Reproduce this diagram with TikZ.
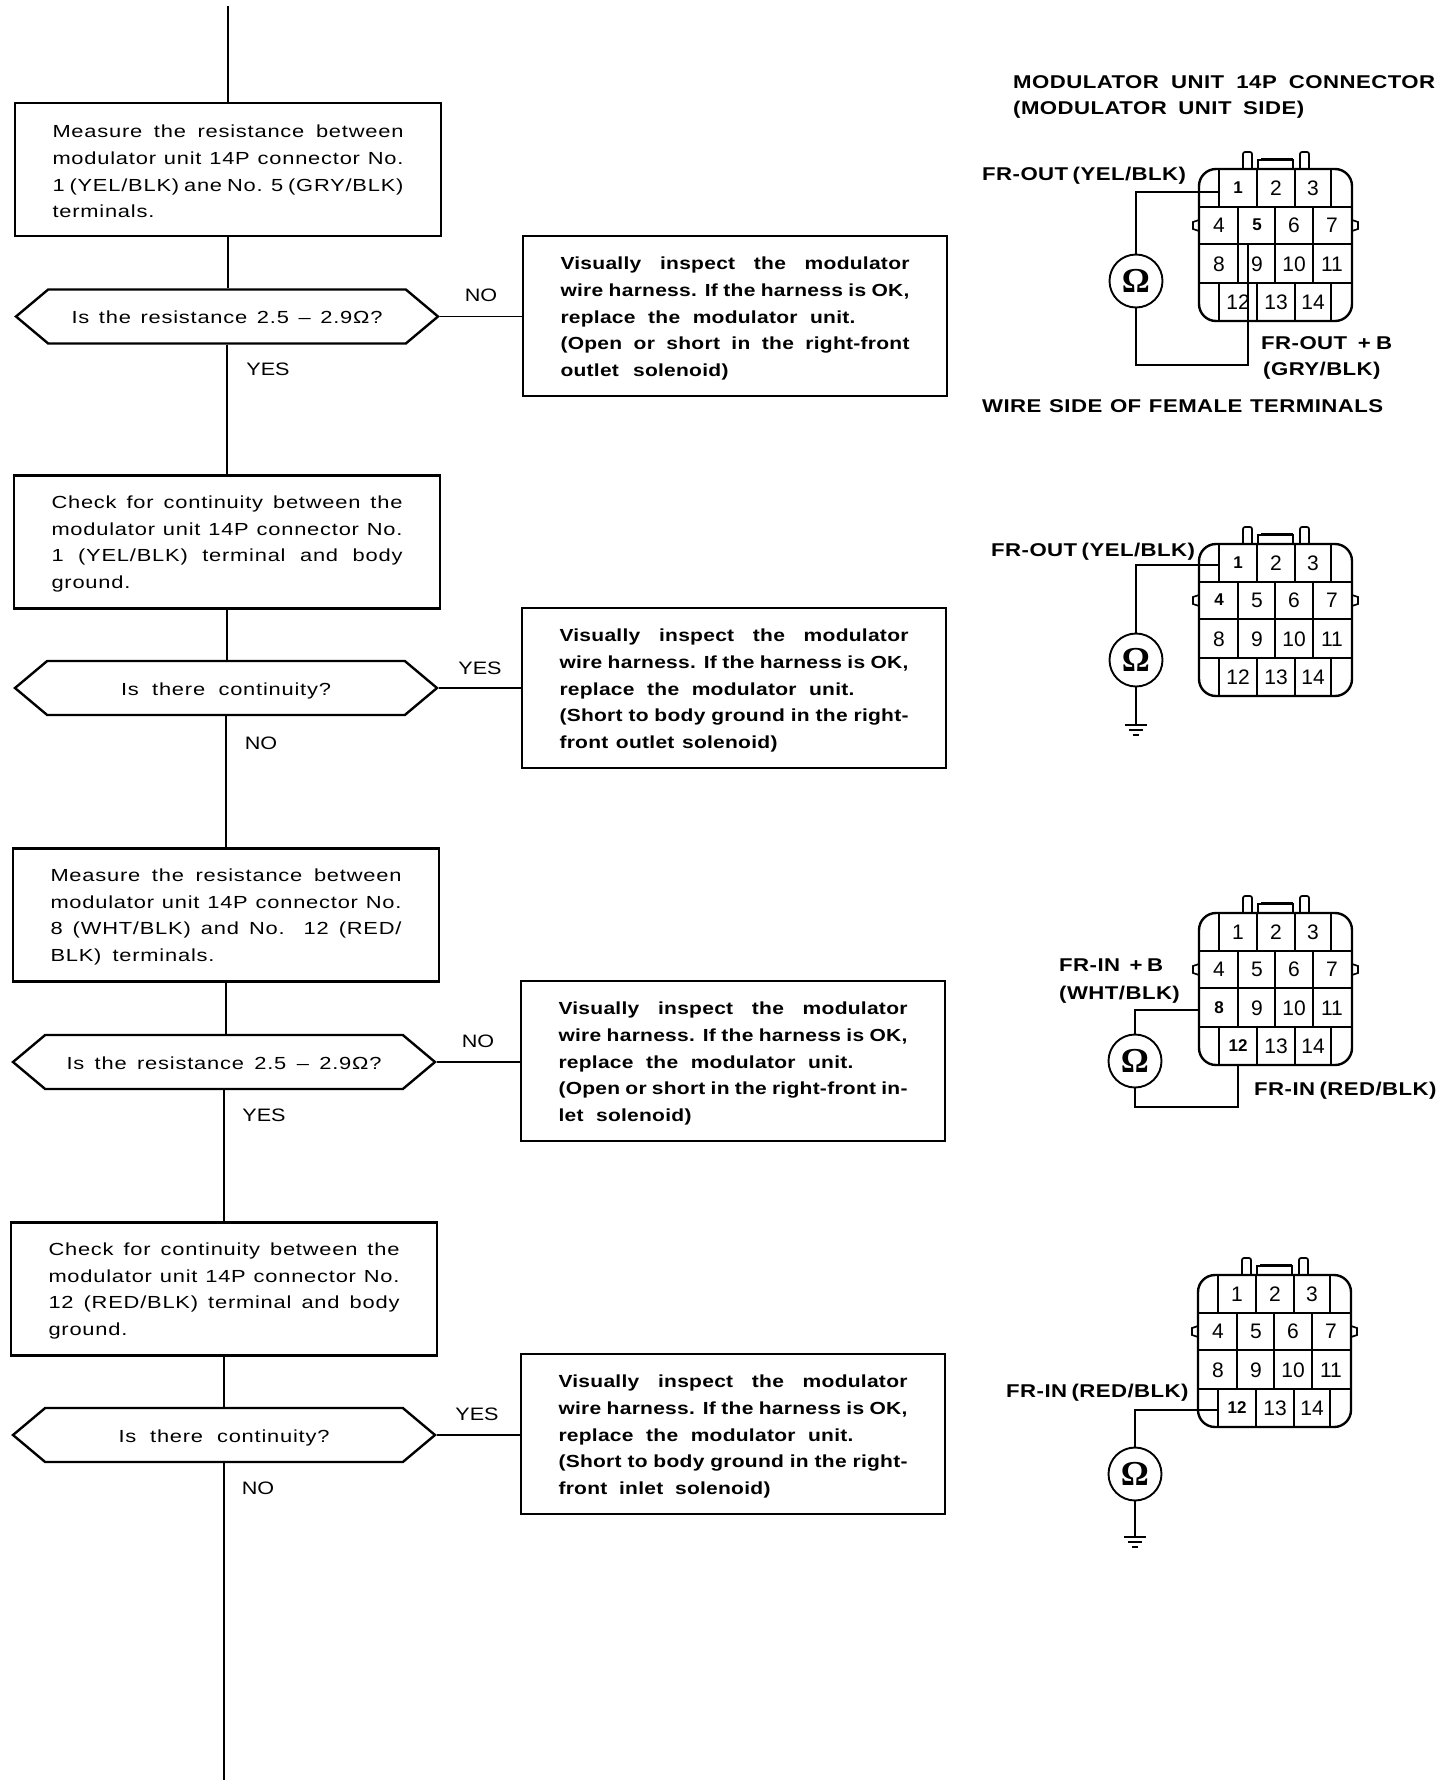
\documentclass[tikz,border=0pt]{standalone}
\usepackage{fontspec}
\usetikzlibrary{shapes.symbols}
\setmainfont{Liberation Sans}
\newfontfamily\ftext[FakeStretch=1.25,LetterSpace=4.5]{Liberation Sans}
\newfontfamily\fans[FakeStretch=1.2]{Liberation Sans}
\newfontfamily\fbold[FakeStretch=1.2,LetterSpace=1.5]{Liberation Sans Bold}
\newfontfamily\flabel[FakeStretch=1.2,LetterSpace=2.4]{Liberation Sans Bold}
\newfontfamily\fnum{Liberation Sans}
\newfontfamily\fnumb{Liberation Sans Bold}
\newfontfamily\fohm{Liberation Serif Bold}
\newcommand{\W}[2]{\makebox[#1pt][s]{\spaceskip=0pt\xspaceskip=0pt #2}}
\newcommand{\J}[1]{\W{351}{#1}}
\newcommand{\K}[1]{\W{349}{#1}}
\newcommand{\T}{\rule{0pt}{18pt}}
\newcommand{\U}{\rule{0pt}{16.5pt}}
\tikzset{
  flowbox/.style={draw,line width=2.4pt,inner sep=0pt,minimum width=426pt,minimum height=133pt,text width=351pt,align=left,
    font=\ftext\fontsize{17.5}{26.8}\selectfont},
  actbox/.style={draw,line width=2.4pt,inner sep=0pt,minimum width=424pt,minimum height=160pt,text width=349pt,align=left,
    font=\fbold\fontsize{17.5}{26.7}\selectfont},
  hexbox/.style={draw,line width=2.4pt,inner sep=0pt,shape=signal,signal to=east and west,signal pointer angle=80,
    minimum width=422pt,minimum height=54pt,text height=14pt,text depth=0pt,font=\ftext\fontsize{17.5}{20}\selectfont},
  wire/.style={line width=1.9pt},
  ans/.style={inner sep=0pt,font=\fans\fontsize{18}{20}\selectfont},
  lbl/.style={inner sep=0pt,anchor=base west,font=\flabel\fontsize{18.5}{20}\selectfont},
  termnum/.style={inner sep=0pt,font=\fnum\fontsize{21}{22}\selectfont},
  boldnum/.style={font=\fnumb\fontsize{17}{20}\selectfont},
  meter/.style={draw,circle,line width=1.9pt,inner sep=0pt,minimum size=53pt,font=\fohm\fontsize{35}{36}\selectfont},
}
\newcommand{\conn}[4]{%
\begin{scope}[shift={(#2,#3)},#4]
  \draw[line width=2.4pt,rounded corners=17pt] (0,0) rectangle (153,152);
  \draw[line width=2.2pt] (0,38)--(153,38) (0,75)--(153,75) (0,114)--(153,114);
  \draw[line width=1.7pt] (20,0)--(20,38) (58,0)--(58,38) (96,0)--(96,38) (132,0)--(132,38);
  \draw[line width=1.7pt] (39,38)--(39,114) (76,38)--(76,114) (114,38)--(114,114);
  \draw[line width=1.7pt] (20,114)--(20,152) (58,114)--(58,152) (96,114)--(96,152) (132,114)--(132,152);
  \draw[line width=1.7pt] (0,51)--(-6,53)--(-6,60)--(0,62) (153,51)--(159,53)--(159,60)--(153,62);
  \draw[line width=1.7pt,rounded corners=2pt] (44,0)--(44,-17)--(53,-17)--(53,0) (101,0)--(101,-17)--(110,-17)--(110,0);
  \draw[line width=1.7pt] (59,0)--(59,-9)--(94,-9)--(94,0);
  \draw[line width=2.6pt] (62,-10)--(94,-10);
  \foreach \n/\xx/\yy in {1/39/19,2/77/19,3/114/19,4/20/56,5/58/56,6/95/56,7/133/56,8/20/95,9/58/95,10/95/95,11/133/95,12/39/133,13/77/133,14/114/133}
    \node[termnum,cb\n/.try] (#1n\n) at (\xx,\yy) {\n};
\end{scope}}
\begin{document}
\begin{tikzpicture}[x=1pt,y=-1pt]
\useasboundingbox (0,0) rectangle (1440,1786);
\fill[white] (0,0) rectangle (1440,1786);
% left column
\coordinate (top) at (228,6);
\coordinate (bottom) at (224,1780);
\node[flowbox] (b1) at (228,169.5) {\U\J{Measure the resistance between}\\\J{modulator unit 14P connector No.}\\\J{1 (YEL/BLK) ane No. 5 (GRY/BLK)}\\\W{104}{terminals.}};
\node[hexbox] (h1) at (227,316.5) {\W{311}{Is the resistance 2.5 – 2.9Ω?}};
\node[flowbox] (b2) at (227,542) {\U\J{Check for continuity between the}\\\J{modulator unit 14P connector No.}\\\J{1 (YEL/BLK) terminal and body}\\\W{71}{ground.}};
\node[hexbox] (h2) at (226,688) {\W{210}{Is there continuity?}};
\node[flowbox] (b3) at (226,915) {\U\J{Measure the resistance between}\\\J{modulator unit 14P connector No.}\\\J{8 (WHT/BLK) and No. 12 (RED/}\\\W{164}{BLK) terminals.}};
\node[hexbox] (h3) at (224,1062) {\W{315}{Is the resistance 2.5 – 2.9Ω?}};
\node[flowbox] (b4) at (224,1289) {\U\J{Check for continuity between the}\\\J{modulator unit 14P connector No.}\\\J{12 (RED/BLK) terminal and body}\\\W{71}{ground.}};
\node[hexbox] (h4) at (224,1435) {\W{211}{Is there continuity?}};
% right column
\node[actbox] (r1) at (735,316) {\T\K{Visually inspect the modulator}\\\K{wire harness. If the harness is OK,}\\\W{295}{replace the modulator unit.}\\\K{(Open or short in the right-front}\\\W{168}{outlet solenoid)}};
\node[actbox] (r2) at (734,688) {\T\K{Visually inspect the modulator}\\\K{wire harness. If the harness is OK,}\\\W{295}{replace the modulator unit.}\\\K{(Short to body ground in the right-}\\\W{218}{front outlet solenoid)}};
\node[actbox] (r3) at (733,1061) {\T\K{Visually inspect the modulator}\\\K{wire harness. If the harness is OK,}\\\W{295}{replace the modulator unit.}\\\K{(Open or short in the right-front in-}\\\W{133}{let solenoid)}};
\node[actbox] (r4) at (733,1434) {\T\K{Visually inspect the modulator}\\\K{wire harness. If the harness is OK,}\\\W{295}{replace the modulator unit.}\\\K{(Short to body ground in the right-}\\\W{212}{front inlet solenoid)}};
% answers
\node[ans] (a1n) at (481,295) {NO};
\node[ans] (a1y) at (268,369) {YES};
\node[ans] (a2y) at (480,668) {YES};
\node[ans] (a2n) at (261,743) {NO};
\node[ans] (a3n) at (478,1041) {NO};
\node[ans] (a3y) at (264,1115) {YES};
\node[ans] (a4y) at (477,1414) {YES};
\node[ans] (a4n) at (258,1488) {NO};
% flow connectors
\draw[wire] (top) -- (top |- b1.north);
\draw[wire] (b1.south) -- (b1.south |- h1.north);
\draw[wire] (h1.south) -- (h1.south |- b2.north);
\draw[wire] (b2.south) -- (b2.south |- h2.north);
\draw[wire] (h2.south) -- (h2.south |- b3.north);
\draw[wire] (b3.south) -- (b3.south |- h3.north);
\draw[wire] (h3.south) -- (h3.south |- b4.north);
\draw[wire] (b4.south) -- (b4.south |- h4.north);
\draw[wire] (h4.south) -- (h4.south |- bottom);
\draw[wire] (h1.east) -- (h1.east -| r1.west);
\draw[wire] (h2.east) -- (h2.east -| r2.west);
\draw[wire] (h3.east) -- (h3.east -| r3.west);
\draw[wire] (h4.east) -- (h4.east -| r4.west);
% connector drawings
\conn{ca}{1199}{169}{cb1/.style=boldnum,cb5/.style=boldnum}
\conn{cb}{1199}{544}{cb1/.style=boldnum,cb4/.style=boldnum}
\conn{cc}{1199}{913}{cb8/.style=boldnum,cb12/.style=boldnum}
\conn{cd}{1198}{1275}{cb12/.style=boldnum}
% labels
\node[lbl] (t1) at (1013,88) {\W{422}{MODULATOR UNIT 14P CONNECTOR}};
\node[lbl] (t2) at (1013,114) {\W{291}{(MODULATOR UNIT SIDE)}};
\node[lbl] (l1) at (982,180) {\W{201}{FR-OUT (YEL/BLK)}};
\node[lbl] (l2) at (1261,349) {\W{131}{FR-OUT\ \ + B}};
\node[lbl] (l3) at (1263,375) {\W{113}{(GRY/BLK)}};
\node[lbl] (l4) at (982,412) {\W{401}{WIRE SIDE OF FEMALE TERMINALS}};
\node[lbl] (l5) at (991,556) {\W{203}{FR-OUT (YEL/BLK)}};
\node[lbl] (l6) at (1059,971) {\W{104}{FR-IN\ \ + B}};
\node[lbl] (l7) at (1059,999) {\W{118}{(WHT/BLK)}};
\node[lbl] (l8) at (1254,1095) {\W{178}{FR-IN (RED/BLK)}};
\node[lbl] (l9) at (1006,1397) {\W{180}{FR-IN (RED/BLK)}};
% meters and probes
\node[meter] (m1) at (1136,281) {Ω};
\node[meter] (m2) at (1136,660) {Ω};
\node[meter] (m3) at (1135,1061) {Ω};
\node[meter] (m4) at (1135,1474) {Ω};
\coordinate (p1a) at (1219,192);
\coordinate (p1b) at (1248,365);
\coordinate (p1c) at (1248,245);
\coordinate (p2a) at (1219,565);
\coordinate (g2) at (1136,725);
\coordinate (p3a) at (1199,1010);
\coordinate (p3b) at (1238,1107);
\coordinate (p3c) at (1238,1066);
\coordinate (p4a) at (1218,1410);
\coordinate (g4) at (1135,1537);
\draw[wire] (m1.north) |- (p1a);
\draw[wire] (m1.south) |- (p1b) -- (p1c);
\draw[wire] (m2.north) |- (p2a);
\draw[wire] (m2.south) -- (g2);
\draw[wire] (g2) ++(-11,0) -- ++(22,0) ++(-18,5) -- ++(14,0) ++(-10,5) -- ++(6,0);
\draw[wire] (m3.north) |- (p3a);
\draw[wire] (m3.south) |- (p3b) -- (p3c);
\draw[wire] (m4.north) |- (p4a);
\draw[wire] (m4.south) -- (g4);
\draw[wire] (g4) ++(-11,0) -- ++(22,0) ++(-18,5) -- ++(14,0) ++(-10,5) -- ++(6,0);
\end{tikzpicture}
\end{document}
